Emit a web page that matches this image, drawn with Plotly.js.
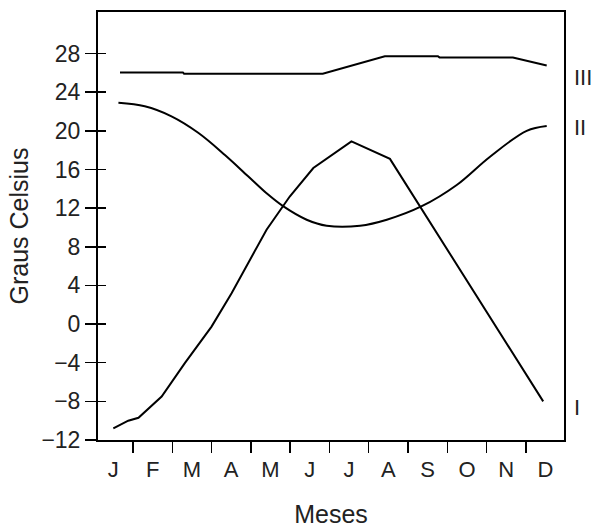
<!DOCTYPE html>
<html>
<head>
<meta charset="utf-8">
<script src="https://cdn.plot.ly/plotly-3.0.1.min.js"></script>
<style>html,body{margin:0;padding:0;background:#fff}#chart{width:595px;height:528px}</style>
</head>
<body>
<div id="chart"></div>
<script>
// Month labels (x = month index, 0 = J ... 11 = D)
var months = ["J","F","M","A","M","J","J","A","S","O","N","D"];
var monthIdx = [0,1,2,3,4,5,6,7,8,9,10,11];
var boundaries = [0.5,1.5,2.5,3.5,4.5,5.5,6.5,7.5,8.5,9.5,10.5];
var yTicks = [-12,-8,-4,0,4,8,12,16,20,24,28];

// Curve I (fractional month positions)
var curveIx = [0.0, 0.38, 0.64, 1.23, 1.82, 2.5, 3.01, 3.43, 3.9, 4.49, 5.09, 6.06, 7.04, 10.94];
var curveIy = [-10.8, -10.0, -9.7, -7.5, -4.05, -0.26, 3.2, 6.3, 9.76, 13.2, 16.15, 18.9, 17.1, -8.0];

// Curve II
var curveIIx = [0.13, 0.8, 1.48, 2.16, 2.84, 3.43, 3.94, 4.32, 4.92, 5.43, 6.28, 6.96, 7.85, 8.74, 9.58, 10.52, 11.03];
var curveIIy = [22.9, 22.54, 21.5, 19.8, 17.5, 15.3, 13.4, 12.2, 10.8, 10.18, 10.18, 10.8, 12.2, 14.4, 17.3, 20.0, 20.5];

// Curve III
var curveIIIx = [0.17, 1.77, 1.8, 5.33, 6.91, 8.26, 8.3, 10.17, 11.03];
var curveIIIy = [26.05, 26.05, 25.92, 25.92, 27.72, 27.72, 27.6, 27.6, 26.77];

var seriesLabels = ["I","II","III"];

var lineStyle = {color:"#000", width:2};
var traces = [
  {x:curveIx, y:curveIy, type:"scatter", mode:"lines", line:lineStyle, hoverinfo:"skip"},
  {x:curveIIx, y:curveIIy, type:"scatter", mode:"lines", line:Object.assign({shape:"spline", smoothing:1}, lineStyle), hoverinfo:"skip"},
  {x:curveIIIx, y:curveIIIy, type:"scatter", mode:"lines", line:lineStyle, hoverinfo:"skip"},
  // invisible trace to activate the overlay axes
  {x:[0], y:[0], xaxis:"x2", yaxis:"y2", type:"scatter", mode:"markers", marker:{opacity:0}, hoverinfo:"skip"}
];

var fontFam = "Liberation Sans, Arial, sans-serif";
var textColor = "#222";
var xr = [-0.39, 11.47];
var yr = [-12, 32.3];

var layout = {
  width:595, height:528,
  margin:{l:98, r:31, t:12, b:88},
  paper_bgcolor:"#fff", plot_bgcolor:"#fff",
  showlegend:false,
  font:{family:fontFam, color:textColor},
  xaxis:{
    range:xr, tickmode:"array", tickvals:monthIdx, ticktext:months,
    ticks:"outside", ticklen:9, tickcolor:"rgba(0,0,0,0)",
    showgrid:false, zeroline:false, showline:true, mirror:true,
    linecolor:"#000", linewidth:2,
    tickfont:{size:22, family:fontFam, color:textColor},
    title:{text:"Meses", font:{size:25, family:fontFam, color:textColor}, standoff:24},
    automargin:false, fixedrange:true
  },
  xaxis2:{
    range:xr, overlaying:"x", anchor:"y", side:"bottom",
    tickmode:"array", tickvals:boundaries, showticklabels:false,
    ticks:"outside", ticklen:12, tickwidth:1.5, tickcolor:"#000",
    showgrid:false, zeroline:false, showline:false, fixedrange:true
  },
  yaxis:{
    range:yr, tickmode:"array", tickvals:yTicks,
    ticks:"outside", ticklen:11, tickwidth:1.5, tickcolor:"#000",
    showgrid:false, zeroline:false, showline:true, mirror:true,
    linecolor:"#000", linewidth:2,
    tickfont:{size:23, family:fontFam, color:textColor},
    title:{text:"Graus Celsius", font:{size:25, family:fontFam, color:textColor}, standoff:6},
    automargin:false, fixedrange:true
  },
  yaxis2:{
    range:yr, overlaying:"y", anchor:"x", side:"left",
    tickmode:"array", tickvals:yTicks, showticklabels:false,
    ticks:"inside", ticklen:8, tickwidth:1.5, tickcolor:"#000",
    showgrid:false, zeroline:false, showline:false, fixedrange:true
  },
  annotations:[
    {text:seriesLabels[2], xref:"paper", yref:"paper", x:1.018, y:0.846, xanchor:"left", yanchor:"middle", showarrow:false, font:{size:22, family:fontFam, color:textColor}},
    {text:seriesLabels[1], xref:"paper", yref:"paper", x:1.018, y:0.731, xanchor:"left", yanchor:"middle", showarrow:false, font:{size:22, family:fontFam, color:textColor}},
    {text:seriesLabels[0], xref:"paper", yref:"paper", x:1.018, y:0.077, xanchor:"left", yanchor:"middle", showarrow:false, font:{size:22, family:fontFam, color:textColor}}
  ]
};

Plotly.newPlot("chart", traces, layout, {staticPlot:true, displayModeBar:false});
</script>
</body>
</html>
